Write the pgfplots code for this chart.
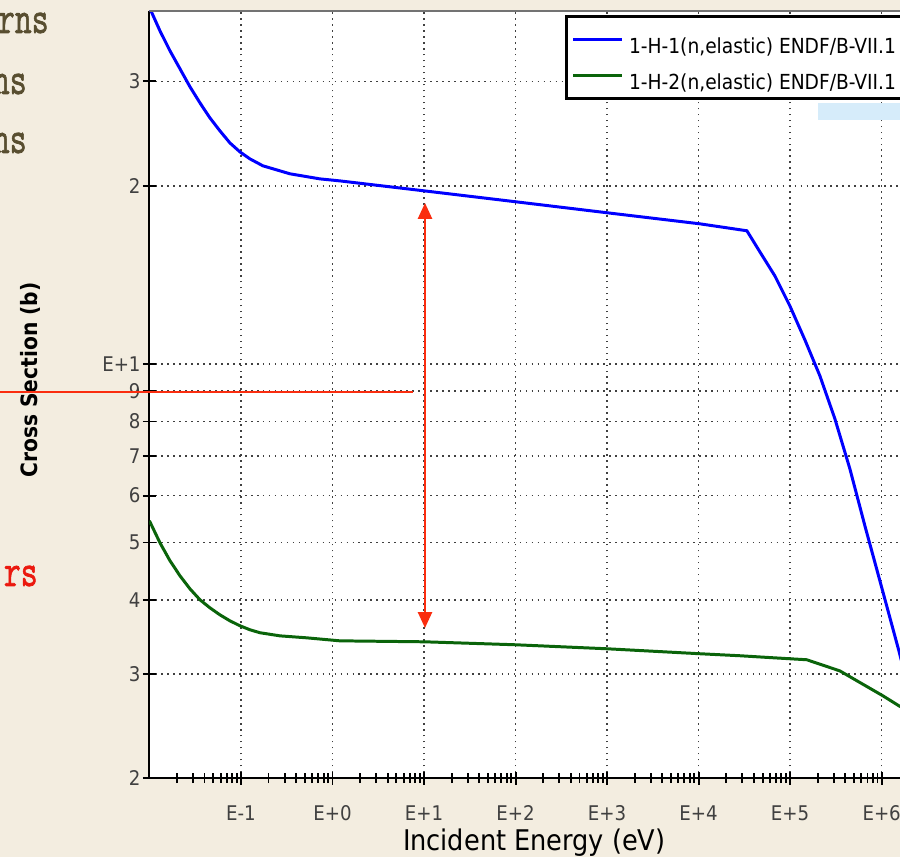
\documentclass[border=0pt]{standalone}
\usepackage{fontspec}
\usepackage{graphicx}
\usepackage{pgfplots}
\pgfplotsset{compat=1.18}
\usetikzlibrary{arrows.meta}
\setmainfont{DejaVu Sans}
\newfontfamily\condf{DejaVu Sans Condensed}
\newfontfamily\typef[FakeBold=1.6]{Latin Modern Mono}
\definecolor{parch}{RGB}{243,237,224}
\definecolor{hblue}{RGB}{0,0,255}
\definecolor{hgreen}{RGB}{10,100,10}
\definecolor{annred}{RGB}{250,45,15}
\definecolor{slidetxt}{RGB}{88,78,48}
\definecolor{slidered}{RGB}{235,25,15}
\definecolor{uiblue}{RGB}{214,236,250}

\begin{document}
\begin{tikzpicture}[x=0.02cm,y=0.02cm]
\useasboundingbox (0,0) rectangle (900,857);
\clip (0,0) rectangle (900,857);
\fill[parch] (0,0) rectangle (900,857);

% cut-off slide text on the left
\node[anchor=base east,inner sep=0pt,text=slidetxt] at (49,824) {\typef\bfseries\fontsize{18.7}{20}\selectfont\scalebox{1}[1.4]{rns}};
\node[anchor=base east,inner sep=0pt,text=slidetxt] at (27,763) {\typef\bfseries\fontsize{18.7}{20}\selectfont\scalebox{1}[1.4]{ns}};
\node[anchor=base east,inner sep=0pt,text=slidetxt] at (27,704) {\typef\bfseries\fontsize{18.7}{20}\selectfont\scalebox{1}[1.4]{ns}};
\node[anchor=base east,inner sep=0pt,text=slidered] at (38,271) {\typef\bfseries\fontsize{18.7}{20}\selectfont\scalebox{1}[1.4]{rs}};

\begin{axis}[
  at={(2.989cm,1.574cm)}, anchor=south west,
  scale only axis, width=17.03cm, height=15.356cm,
  xmode=log, ymode=log,
  xmin=0.01, xmax=2e7, ymin=2, ymax=39.5,
  axis lines*=left,
  axis line style={black,line width=1.1pt},
  axis background/.style={fill=white},
  xtick={1e-1,1,10,100,1e3,1e4,1e5,1e6,1e7},
  xticklabels={E-1,E+0,E+1,E+2,E+3,E+4,E+5,E+6,E+7},
  minor xtick={0.02,0.03,0.04,0.05,0.06,0.07,0.08,0.09,
    0.2,0.3,0.4,0.5,0.6,0.7,0.8,0.9,
    2,3,4,5,6,7,8,9,
    20,30,40,50,60,70,80,90,
    200,300,400,500,600,700,800,900,
    2e3,3e3,4e3,5e3,6e3,7e3,8e3,9e3,
    2e4,3e4,4e4,5e4,6e4,7e4,8e4,9e4,
    2e5,3e5,4e5,5e5,6e5,7e5,8e5,9e5,
    2e6,3e6,4e6,5e6,6e6,7e6,8e6,9e6},
  ytick={2,3,4,5,6,7,8,9,10,20,30},
  yticklabels={2,3,4,5,6,7,8,9,E+1\hspace{4pt},2,3},
  yminorticks=false,
  tick align=center,
  major tick length=7.5pt, minor tick length=5.5pt,
  tick style={black,line width=1.1pt},
  grid=major,
  grid style={black!75,line width=0.9pt,dash pattern=on 0.9pt off 2.5pt},
  tick label style={font=\condf\fontsize{11.5}{13}\selectfont,text=black!75,inner sep=0pt},
  xticklabel style={anchor=north},
  xticklabel shift=11.5pt,
  yticklabel style={anchor=east},
  yticklabel shift=1.1pt,
  xlabel={Incident Energy (eV)},
  ylabel={Cross Section (b)},
  xlabel style={at={(axis description cs:0.452,-0.0938)},anchor=base,inner sep=0pt,
    font=\condf\fontsize{16.2}{18}\selectfont},
  ylabel style={at={(axis description cs:-0.1403,0.5188)},anchor=center,inner sep=0pt,
    font=\condf\bfseries\fontsize{12.8}{14}\selectfont},
  legend style={at={(0.488,0.9941)},anchor=north west,draw=black,line width=1.6pt,
    fill=white,inner xsep=3pt,inner ysep=2.7pt,row sep=0pt,column sep=3pt,
    font=\condf\fontsize{11.8}{13}\selectfont,
    nodes={inner sep=0pt,text height=18.2pt,text depth=2.4pt}},
  legend cell align=left,
  legend image code/.code={\draw[#1] (0pt,0pt) -- (28pt,0pt);},
]
\addplot[hblue,line width=1.7pt] coordinates {
  (0.01,40.0) (0.01304,36.51) (0.01677,33.79) (0.02157,31.51) (0.02773,29.38)
  (0.03566,27.60) (0.04586,26.03) (0.05896,24.75) (0.07582,23.62) (0.0975,22.81)
  (0.1254,22.20) (0.1738,21.61) (0.3428,20.95) (0.729,20.54) (1.206,20.38)
  (9.98,19.61) (101,18.79) (1020,18.00) (1.03e4,17.25) (3.37e4,16.79)
  (4.67e4,15.47) (6.81e4,14.09) (9.93e4,12.54) (1.449e5,10.99) (2.113e5,9.556)
  (3.083e5,8.086) (4.497e5,6.656) (6.56e5,5.334) (9.57e5,4.307) (1.542e6,3.282)
  (2.5e6,2.45) (5e6,1.6)
};
\addlegendentry{1-H-1(n,elastic) ENDF/B-VII.1}
\addplot[hgreen,line width=1.7pt] coordinates {
  (0.01,5.44) (0.01304,4.994) (0.01677,4.658) (0.02157,4.393) (0.02773,4.176)
  (0.03566,4.002) (0.04586,3.879) (0.05896,3.775) (0.07582,3.688) (0.0975,3.618)
  (0.1254,3.562) (0.1613,3.521) (0.267,3.479) (0.526,3.452) (1.206,3.412)
  (10.2,3.399) (101,3.360) (1020,3.308) (1.03e4,3.245) (2.83e4,3.220)
  (6.47e4,3.195) (1.52e5,3.170) (3.49e5,3.036) (1.03e6,2.756) (1.542e6,2.651)
  (3e6,2.5) (2e7,2.05)
};
\addlegendentry{1-H-2(n,elastic) ENDF/B-VII.1}
\draw[black!55,line width=1.4pt] (rel axis cs:0,1) -- (rel axis cs:1,1);
\end{axis}

% window element and slide annotations
\fill[uiblue] (818,737) rectangle (900,754);
\draw[annred,line width=1.1pt] (0,465) -- (413,465);
\draw[annred,line width=1.1pt,{Triangle[width=8pt,length=9pt]}-{Triangle[width=8pt,length=9pt]}] (425,229) -- (425,654);
\end{tikzpicture}
\end{document}
